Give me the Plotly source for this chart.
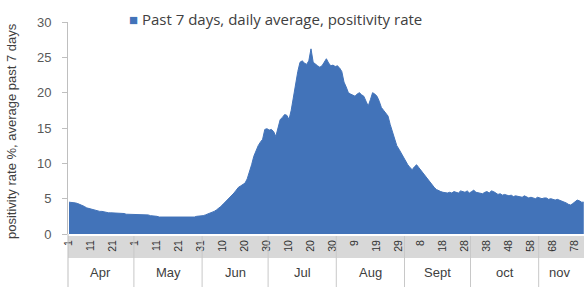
import pandas as pd
import plotly.graph_objects as go

# Daily positivity rate (%), 7-day average, starting 1 April
start_date = "2020-04-01"
positivity = [
    4.5, 4.5, 4.4, 4.4, 4.3, 4.2, 4.0, 3.9, 3.7, 3.6,
    3.5, 3.4, 3.3, 3.3, 3.2, 3.2, 3.1, 3.1, 3.0, 3.0,
    3.0, 2.9, 3.0, 3.0, 2.9, 2.9, 2.8, 2.8, 2.7, 2.7,
    2.7, 2.8, 2.8, 2.7, 2.8, 2.7, 2.7, 2.6, 2.6, 2.5,
    2.5, 2.4, 2.4, 2.3, 2.3, 2.3, 2.4, 2.3, 2.3, 2.4,
    2.3, 2.3, 2.4, 2.4, 2.3, 2.4, 2.4, 2.4, 2.5, 2.5,
    2.5, 2.6, 2.7, 2.8, 3.0, 3.1, 3.2, 3.4, 3.6, 3.9,
    4.2, 4.5, 4.8, 5.1, 5.4, 5.8, 6.2, 6.6, 6.8, 7.0,
    7.2, 7.8, 8.7, 9.8, 11.0, 11.8, 12.5, 13.0, 13.4, 14.8,
    14.9, 14.7, 14.8, 14.5, 13.8, 15.0, 16.2, 16.5, 16.9, 16.8,
    16.2, 17.5, 19.5, 21.5, 23.0, 24.3, 24.5, 24.2, 24.0, 24.5,
    26.2, 24.3, 24.0, 23.8, 23.6, 23.8, 24.3, 24.8, 24.2, 23.8,
    23.9, 23.7, 23.8, 23.5, 23.0, 21.5, 20.8, 20.0, 19.8, 19.6,
    19.5, 19.8, 20.0, 19.7, 19.5, 18.8, 18.1, 19.0, 20.0, 19.8,
    19.5, 18.8, 17.9, 17.5, 17.0, 16.7, 15.5, 14.4, 13.3, 12.5,
    12.0, 11.4, 10.8, 10.3, 9.8, 9.4, 9.1, 9.5, 9.8, 9.4,
    9.0, 8.6, 8.1, 7.7, 7.4, 7.0, 6.6, 6.3, 6.1, 6.0,
    5.9, 5.8, 5.8, 5.9, 5.8, 6.0, 5.9, 5.8, 6.1, 6.0,
    5.9, 6.1, 5.8, 6.0, 6.2, 5.9, 5.8, 5.8, 5.7, 5.9,
    6.0, 5.8, 6.1, 6.0, 5.8, 5.6, 5.7, 5.5, 5.6, 5.5,
    5.4, 5.5, 5.3, 5.4, 5.3, 5.3, 5.2, 5.4, 5.2, 5.1,
    5.2, 5.1, 5.0, 5.2, 5.1, 5.0, 5.1, 5.1, 4.9, 5.0,
    4.9, 4.8, 4.9, 4.8, 4.7, 4.6, 4.4, 4.2, 4.1, 4.3,
    4.6, 4.8, 4.7, 4.5, 4.5,
]
tick_dates = ["2020-04-01", "2020-04-11", "2020-04-21", "2020-05-01", "2020-05-11",
              "2020-05-21", "2020-05-31", "2020-06-10", "2020-06-20", "2020-06-30",
              "2020-07-10", "2020-07-20", "2020-07-30", "2020-08-09", "2020-08-19",
              "2020-08-29", "2020-09-08", "2020-09-18", "2020-09-28", "2020-10-08",
              "2020-10-18", "2020-10-28", "2020-11-07", "2020-11-17"]
tick_labels = ["1", "11", "21", "1", "11", "21", "31", "10", "20", "30", "10", "20",
               "30", "9", "19", "29", "8", "18", "28", "38", "48", "58", "68", "78"]
month_labels = ["Apr", "May", "Jun", "Jul", "Aug", "Sept", "oct", "nov"]
month_centers = ["2020-04-15 12:00", "2020-05-16", "2020-06-15 12:00", "2020-07-16",
                 "2020-08-16", "2020-09-15 12:00", "2020-10-16", "2020-11-10"]
month_bounds = ["2020-04-30 12:00", "2020-05-31 12:00", "2020-06-30 12:00",
                "2020-07-31 12:00", "2020-08-31 12:00", "2020-09-30 12:00",
                "2020-10-31 12:00"]

dates = pd.date_range(start_date, periods=len(positivity), freq="D")

W, H = 584, 287
L, R, T, B = 68, 0, 22, 53
plot_h = H - T - B


def py(pix):
    return (H - B - pix) / plot_h


BLUE = "#4273B9"
fig = go.Figure()
fig.add_trace(go.Scatter(
    x=dates, y=positivity, mode="lines", fill="tozeroy",
    line=dict(color=BLUE, width=1), fillcolor=BLUE,
    showlegend=False, hoverinfo="skip",
))

shapes = [
    dict(type="rect", xref="paper", yref="paper", x0=0, x1=1, y0=py(258), y1=py(236),
         fillcolor="#d8d8d8", line=dict(width=0), layer="below"),
    dict(type="line", xref="paper", yref="paper", x0=0, x1=0, y0=py(287), y1=py(234),
         line=dict(color="#bfbfbf", width=1)),
]
for b in month_bounds:
    shapes.append(dict(type="line", xref="x", yref="paper", x0=b, x1=b,
                       y0=py(287), y1=py(236), line=dict(color="#c8c8c8", width=1)))

annotations = []
for lab, c in zip(month_labels, month_centers):
    annotations.append(dict(x=c, xref="x", y=py(272), yref="paper", yanchor="middle",
                            text=lab, showarrow=False,
                            font=dict(size=13, color="#404040", family="Liberation Sans")))
annotations.append(dict(x=0, xref="paper", xanchor="center", xshift=-57,
                        y=py(131), yref="paper", yanchor="middle",
                        text="positivity rate %, average past 7 days", textangle=-90,
                        showarrow=False, font=dict(size=13, color="#404040",
                                                   family="Liberation Sans")))
annotations.append(dict(x=(127 - L) / (W - L - R), xref="paper", xanchor="left",
                        y=py(19), yref="paper", yanchor="middle",
                        text="<span style='color:%s'>■</span> Past 7 days, daily average, positivity rate" % BLUE,
                        showarrow=False, font=dict(size=15, color="#404040",
                                                   family="Open Sans")))

fig.update_layout(
    width=W, height=H,
    margin=dict(l=L, r=R, t=T, b=B, autoexpand=False),
    paper_bgcolor="white", plot_bgcolor="white",
    shapes=shapes, annotations=annotations,
    xaxis=dict(
        range=[pd.Timestamp(start_date) - pd.Timedelta(hours=11),
               pd.Timestamp(start_date) + pd.Timedelta(days=234.1)],
        tickmode="array", tickvals=tick_dates, ticktext=tick_labels,
        tickangle=-90, tickfont=dict(size=10.5, color="#303030", family="Liberation Sans"),
        showgrid=False, zeroline=False, showline=False, ticks="",
        automargin=False, ticklabelstandoff=3,
    ),
    yaxis=dict(
        range=[0, 30], tickvals=[0, 5, 10, 15, 20, 25, 30],
        showgrid=False, zeroline=False, showline=True, linecolor="#bfbfbf",
        ticks="outside", ticklen=5, tickcolor="#bfbfbf",
        tickfont=dict(size=13, color="#595959", family="Liberation Sans"),
        ticklabelstandoff=8, automargin=False,
    ),
)

fig.write_html("out.html", config={"displayModeBar": False},
               post_script="document.body.style.margin='0';")
